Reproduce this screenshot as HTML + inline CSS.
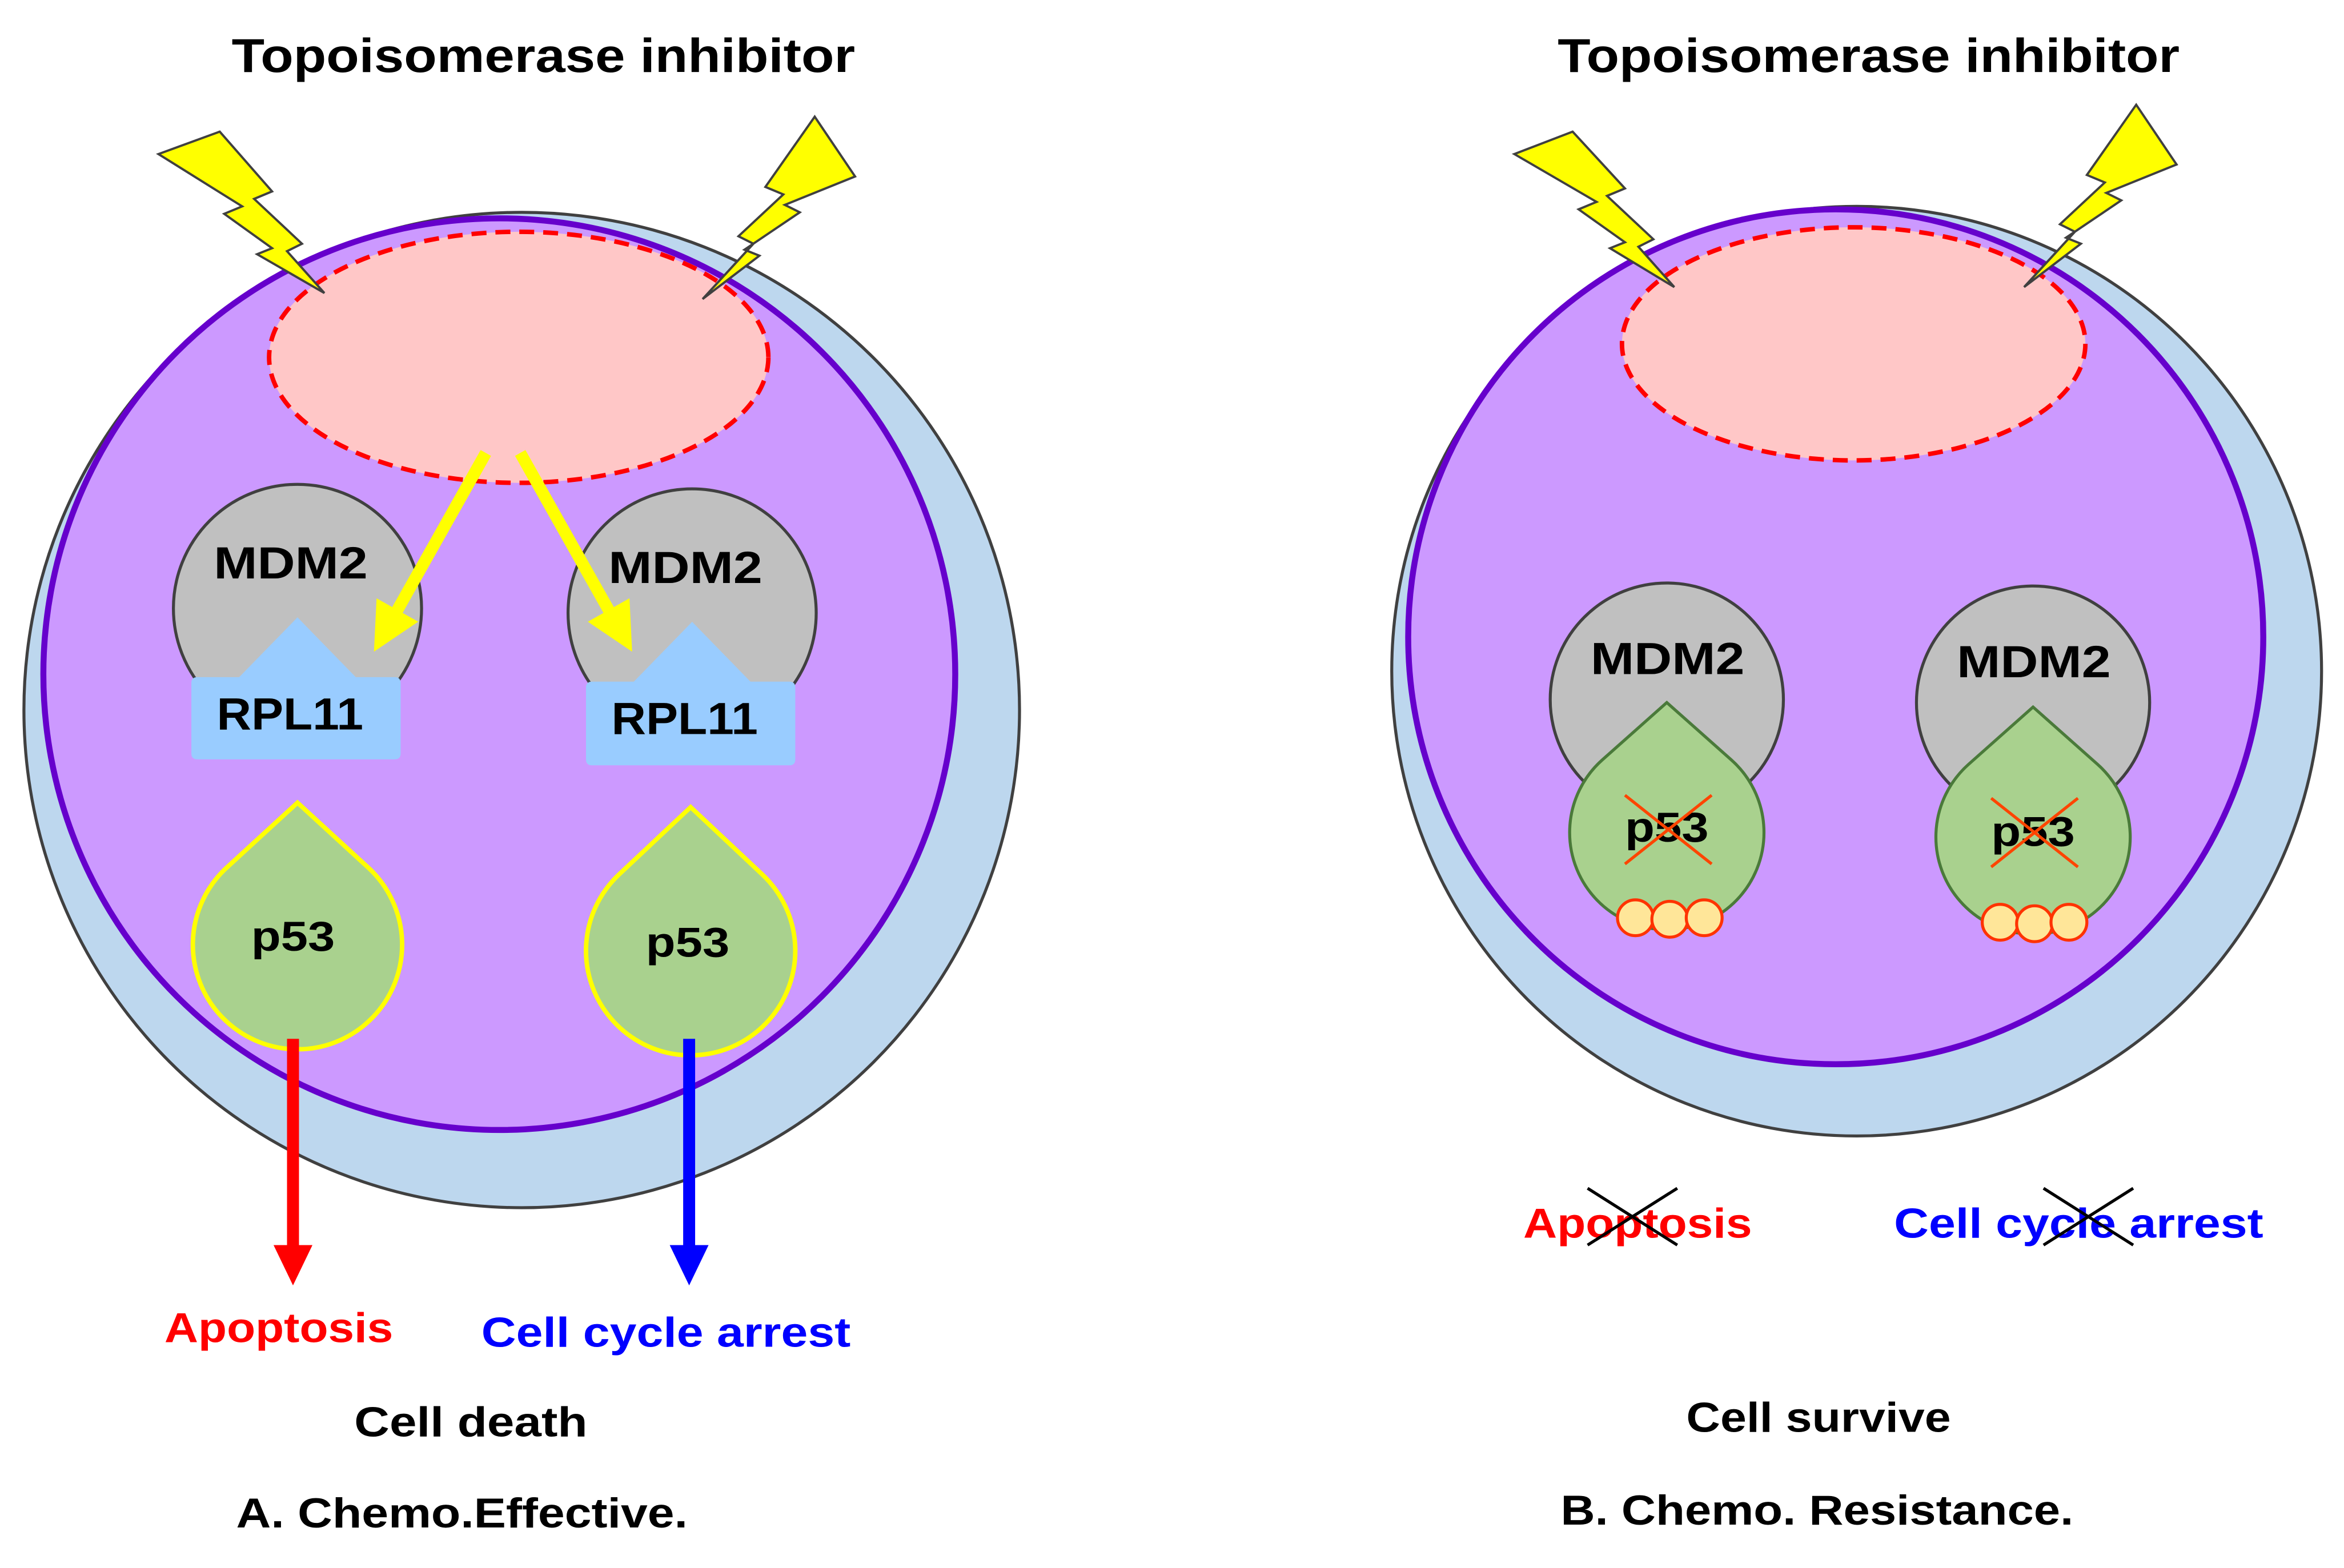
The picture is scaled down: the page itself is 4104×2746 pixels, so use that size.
<!DOCTYPE html>
<html><head><style>html,body{margin:0;padding:0;background:#fff}svg{display:block}text{font-family:"Liberation Sans",sans-serif;font-weight:bold}</style></head>
<body>
<svg width="4104" height="2746" viewBox="0 0 1568 1049" xmlns="http://www.w3.org/2000/svg">
<defs>
<marker id="ay" markerWidth="4" markerHeight="4" refX="2" refY="2" orient="auto" markerUnits="strokeWidth"><path d="M0,0 L4,2 L0,4 Z" fill="#ffff00"/></marker>
<polygon id="bolt" points="572,118 545,78 512,125 524,130 494,158 504,163 470,200 508,171 498,167 535,142 525,137" fill="#ffff00" stroke="#404040" stroke-width="1.5"/>
</defs>
<!-- LEFT -->
<text x="155" y="48" font-size="32" textLength="417" lengthAdjust="spacingAndGlyphs">Topoisomerase inhibitor</text>
<circle cx="349" cy="475" r="333" fill="#bdd7ee" stroke="#404040" stroke-width="2"/>
<circle cx="334" cy="451" r="305" fill="#cc99ff" stroke="#6600cc" stroke-width="4"/>
<ellipse cx="347" cy="239" rx="167" ry="84" fill="#ffc7c7" stroke="#ff0000" stroke-width="3" stroke-dasharray="10,6"/>
<polygon points="106,103 147,88 182,128 170,133 202,163 192,168 217,196 172,170 182,166 150,143 162,138" fill="#ffff00" stroke="#404040" stroke-width="1.5"/>
<use href="#bolt"/>
<circle cx="199" cy="407" r="83" fill="#c0c0c0" stroke="#404040" stroke-width="2"/>
<circle cx="463" cy="410" r="83" fill="#c0c0c0" stroke="#404040" stroke-width="2"/>
<text x="143" y="387" font-size="30" textLength="103" lengthAdjust="spacingAndGlyphs">MDM2</text>
<text x="407" y="390" font-size="30" textLength="103" lengthAdjust="spacingAndGlyphs">MDM2</text>
<path d="M132,453 L160,453 L199,413 L238,453 L264,453 Q268,453 268,457 L268,504 Q268,508 264,508 L132,508 Q128,508 128,504 L128,457 Q128,453 132,453 Z" fill="#99ccff"/>
<path d="M396,456 L424,456 L463,416 L502,456 L528,456 Q532,456 532,460 L532,508 Q532,512 528,512 L396,512 Q392,512 392,508 L392,460 Q392,456 396,456 Z" fill="#99ccff"/>
<text x="145" y="488" font-size="30" textLength="98" lengthAdjust="spacingAndGlyphs">RPL11</text>
<text x="409" y="491" font-size="30" textLength="98" lengthAdjust="spacingAndGlyphs">RPL11</text>
<line x1="325" y1="303" x2="258" y2="422" stroke="#ffff00" stroke-width="8" marker-end="url(#ay)"/>
<line x1="348" y1="303" x2="415" y2="422" stroke="#ffff00" stroke-width="8" marker-end="url(#ay)"/>
<path d="M199,537 L151.7,580.4 A70,70 0 1 0 246.3,580.4 Z" fill="#a9d18e" stroke="#ffff00" stroke-width="3"/>
<path d="M462,540 L414.1,585 A70,70 0 1 0 509.9,585 Z" fill="#a9d18e" stroke="#ffff00" stroke-width="3"/>
<text x="168" y="636" font-size="28" textLength="56" lengthAdjust="spacingAndGlyphs">p53</text>
<text x="432" y="640" font-size="28" textLength="56" lengthAdjust="spacingAndGlyphs">p53</text>
<line x1="196" y1="695" x2="196" y2="835" stroke="#ff0000" stroke-width="8"/>
<polygon points="183,833 209,833 196,860" fill="#ff0000"/>
<line x1="461" y1="695" x2="461" y2="835" stroke="#0000ff" stroke-width="8"/>
<polygon points="448,833 474,833 461,860" fill="#0000ff"/>
<text x="110" y="898" font-size="28" fill="#ff0000" textLength="153" lengthAdjust="spacingAndGlyphs">Apoptosis</text>
<text x="322" y="901" font-size="28" fill="#0000ff" textLength="247" lengthAdjust="spacingAndGlyphs">Cell cycle arrest</text>
<text x="237" y="961" font-size="28" textLength="156" lengthAdjust="spacingAndGlyphs">Cell death</text>
<text x="158" y="1022" font-size="28" textLength="302" lengthAdjust="spacingAndGlyphs">A. Chemo.Effective.</text>
<!-- RIGHT -->
<text x="1042" y="48" font-size="32" textLength="416" lengthAdjust="spacingAndGlyphs">Topoisomerase inhibitor</text>
<circle cx="1242" cy="449" r="311" fill="#bdd7ee" stroke="#404040" stroke-width="2"/>
<circle cx="1228" cy="426" r="286" fill="#cc99ff" stroke="#6600cc" stroke-width="4"/>
<ellipse cx="1240" cy="230" rx="155" ry="78" fill="#ffc7c7" stroke="#ff0000" stroke-width="3" stroke-dasharray="10,6"/>
<polygon points="1013,103 1052,88 1087,126 1075,131 1106,160 1096,165 1120,192 1077,166 1087,162 1056,140 1068,135" fill="#ffff00" stroke="#404040" stroke-width="1.5"/>
<use href="#bolt" transform="translate(884,-8)"/>
<circle cx="1115" cy="468" r="78" fill="#c0c0c0" stroke="#404040" stroke-width="2"/>
<circle cx="1360" cy="470" r="78" fill="#c0c0c0" stroke="#404040" stroke-width="2"/>
<text x="1064" y="451" font-size="30" textLength="103" lengthAdjust="spacingAndGlyphs">MDM2</text>
<text x="1309" y="453" font-size="30" textLength="103" lengthAdjust="spacingAndGlyphs">MDM2</text>
<path d="M1115,470 L1071.8,508.4 A65,65 0 1 0 1158.2,508.4 Z" fill="#a9d18e" stroke="#4a7a3a" stroke-width="2"/>
<path d="M1360,473 L1316.8,511.4 A65,65 0 1 0 1403.2,511.4 Z" fill="#a9d18e" stroke="#4a7a3a" stroke-width="2"/>
<text x="1087" y="563" font-size="28" textLength="56" lengthAdjust="spacingAndGlyphs">p53</text>
<text x="1332" y="566" font-size="28" textLength="56" lengthAdjust="spacingAndGlyphs">p53</text>
<line x1="1087" y1="532" x2="1145" y2="578" stroke="#ff4400" stroke-width="2"/>
<line x1="1145" y1="532" x2="1087" y2="578" stroke="#ff4400" stroke-width="2"/>
<line x1="1332" y1="534" x2="1390" y2="580" stroke="#ff4400" stroke-width="2"/>
<line x1="1390" y1="534" x2="1332" y2="580" stroke="#ff4400" stroke-width="2"/>
<g fill="#ffe699" stroke="#ff3300" stroke-width="2">
<circle cx="1094" cy="614" r="12"/><circle cx="1117" cy="615" r="12"/><circle cx="1140" cy="614" r="12"/>
<circle cx="1338" cy="617" r="12"/><circle cx="1361" cy="618" r="12"/><circle cx="1384" cy="617" r="12"/>
</g>
<text x="1019" y="828" font-size="28" fill="#ff0000" textLength="153" lengthAdjust="spacingAndGlyphs">Apoptosis</text>
<text x="1267" y="828" font-size="28" fill="#0000ff" textLength="247" lengthAdjust="spacingAndGlyphs">Cell cycle arrest</text>
<g stroke="#000" stroke-width="2">
<line x1="1062" y1="795" x2="1122" y2="833"/><line x1="1122" y1="795" x2="1062" y2="833"/>
<line x1="1367" y1="795" x2="1427" y2="833"/><line x1="1427" y1="795" x2="1367" y2="833"/>
</g>
<text x="1128" y="958" font-size="28" textLength="177" lengthAdjust="spacingAndGlyphs">Cell survive</text>
<text x="1044" y="1020" font-size="28" textLength="343" lengthAdjust="spacingAndGlyphs">B. Chemo. Resistance.</text>
</svg>
</body></html>
